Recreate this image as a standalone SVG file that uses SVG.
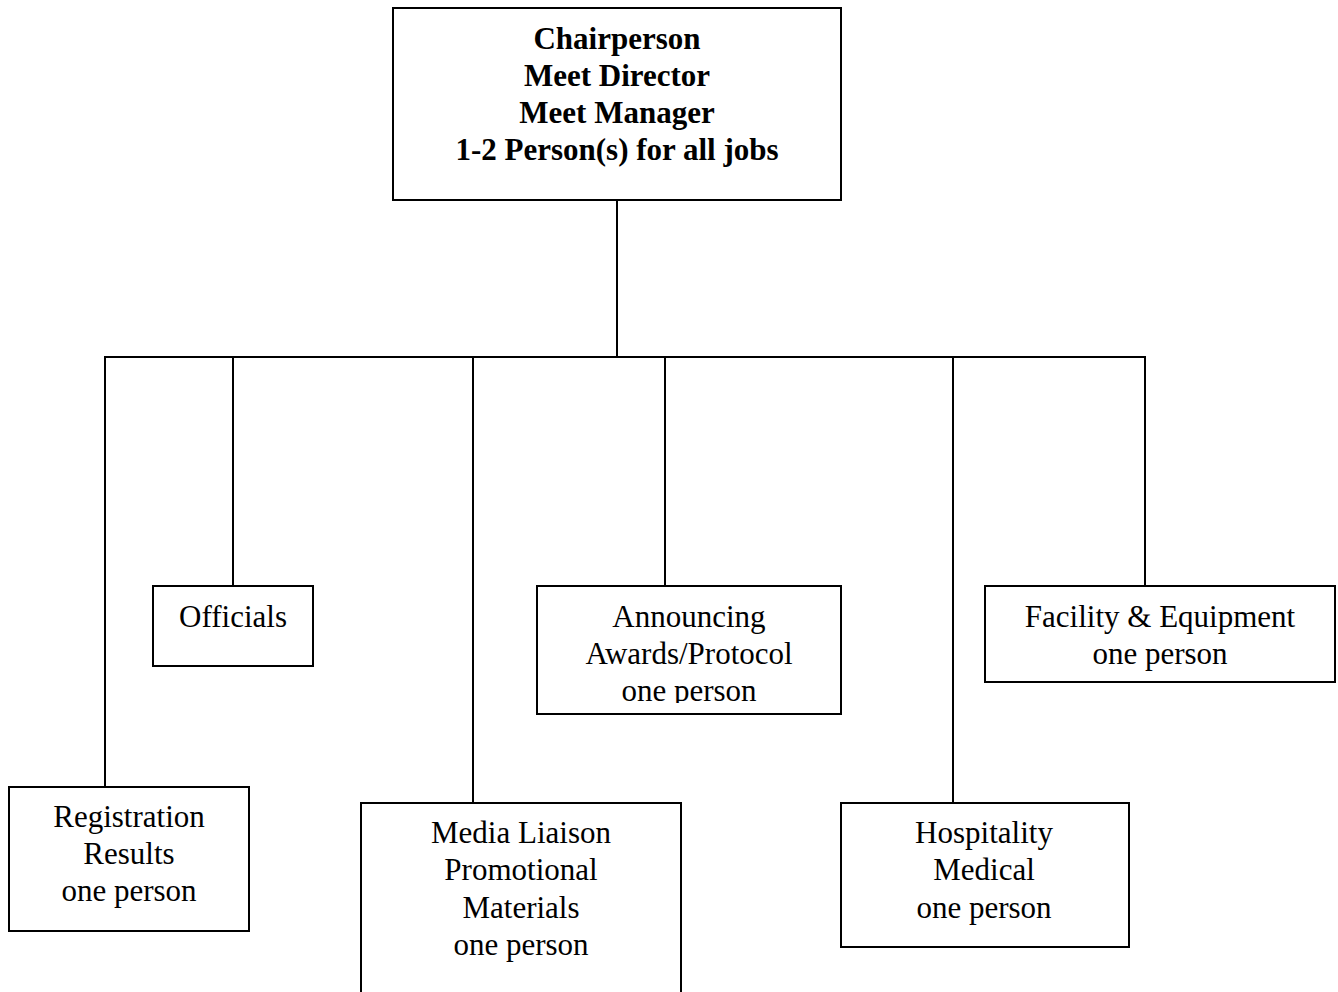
<svg xmlns="http://www.w3.org/2000/svg" width="1338" height="992" viewBox="0 0 1338 992">
<style>
  .box { fill: #ffffff; stroke: #000000; stroke-width: 2; }
  .ln { fill: none; stroke: #000000; stroke-width: 2; }
  .t { font-family: "Liberation Serif", "Times New Roman", serif; font-size: 31px; fill: #000000; text-anchor: middle; }
  .b { font-weight: bold; }
</style>
<defs>
  <clipPath id="clipAnn"><rect x="537" y="586" width="304" height="117"/></clipPath>
</defs>
<rect x="0" y="0" width="1338" height="992" fill="#ffffff"/>
<g id="connectors">
  <line class="ln" x1="617" y1="200" x2="617" y2="358"/>
  <line class="ln" x1="104" y1="357" x2="1146" y2="357"/>
  <line class="ln" x1="105" y1="357" x2="105" y2="787"/>
  <line class="ln" x1="233" y1="357" x2="233" y2="586"/>
  <line class="ln" x1="473" y1="357" x2="473" y2="803"/>
  <line class="ln" x1="665" y1="357" x2="665" y2="586"/>
  <line class="ln" x1="953" y1="357" x2="953" y2="803"/>
  <line class="ln" x1="1145" y1="357" x2="1145" y2="586"/>
</g>
<g id="chair">
  <rect class="box" x="393" y="8" width="448" height="192"/>
  <text class="t b" x="617" y="49">Chairperson</text>
  <text class="t b" x="617" y="86">Meet Director</text>
  <text class="t b" x="617" y="123">Meet Manager</text>
  <text class="t b" x="617" y="160">1-2 Person(s) for all jobs</text>
</g>
<g id="officials">
  <rect class="box" x="153" y="586" width="160" height="80"/>
  <text class="t" x="233" y="627">Officials</text>
</g>
<g id="announcing">
  <rect class="box" x="537" y="586" width="304" height="128"/>
  <g clip-path="url(#clipAnn)">
    <text class="t" x="689" y="627">Announcing</text>
    <text class="t" x="689" y="664">Awards/Protocol</text>
    <text class="t" x="689" y="701">one person</text>
  </g>
</g>
<g id="facility">
  <rect class="box" x="985" y="586" width="350" height="96"/>
  <text class="t" x="1160" y="627">Facility &amp; Equipment</text>
  <text class="t" x="1160" y="664">one person</text>
</g>
<g id="registration">
  <rect class="box" x="9" y="787" width="240" height="144"/>
  <text class="t" x="129" y="827">Registration</text>
  <text class="t" x="129" y="864">Results</text>
  <text class="t" x="129" y="901">one person</text>
</g>
<g id="media">
  <rect class="box" x="361" y="803" width="320" height="200"/>
  <text class="t" x="521" y="843">Media Liaison</text>
  <text class="t" x="521" y="880">Promotional</text>
  <text class="t" x="521" y="918">Materials</text>
  <text class="t" x="521" y="955">one person</text>
</g>
<g id="hospitality">
  <rect class="box" x="841" y="803" width="288" height="144"/>
  <text class="t" x="984" y="843">Hospitality</text>
  <text class="t" x="984" y="880">Medical</text>
  <text class="t" x="984" y="918">one person</text>
</g>
</svg>
